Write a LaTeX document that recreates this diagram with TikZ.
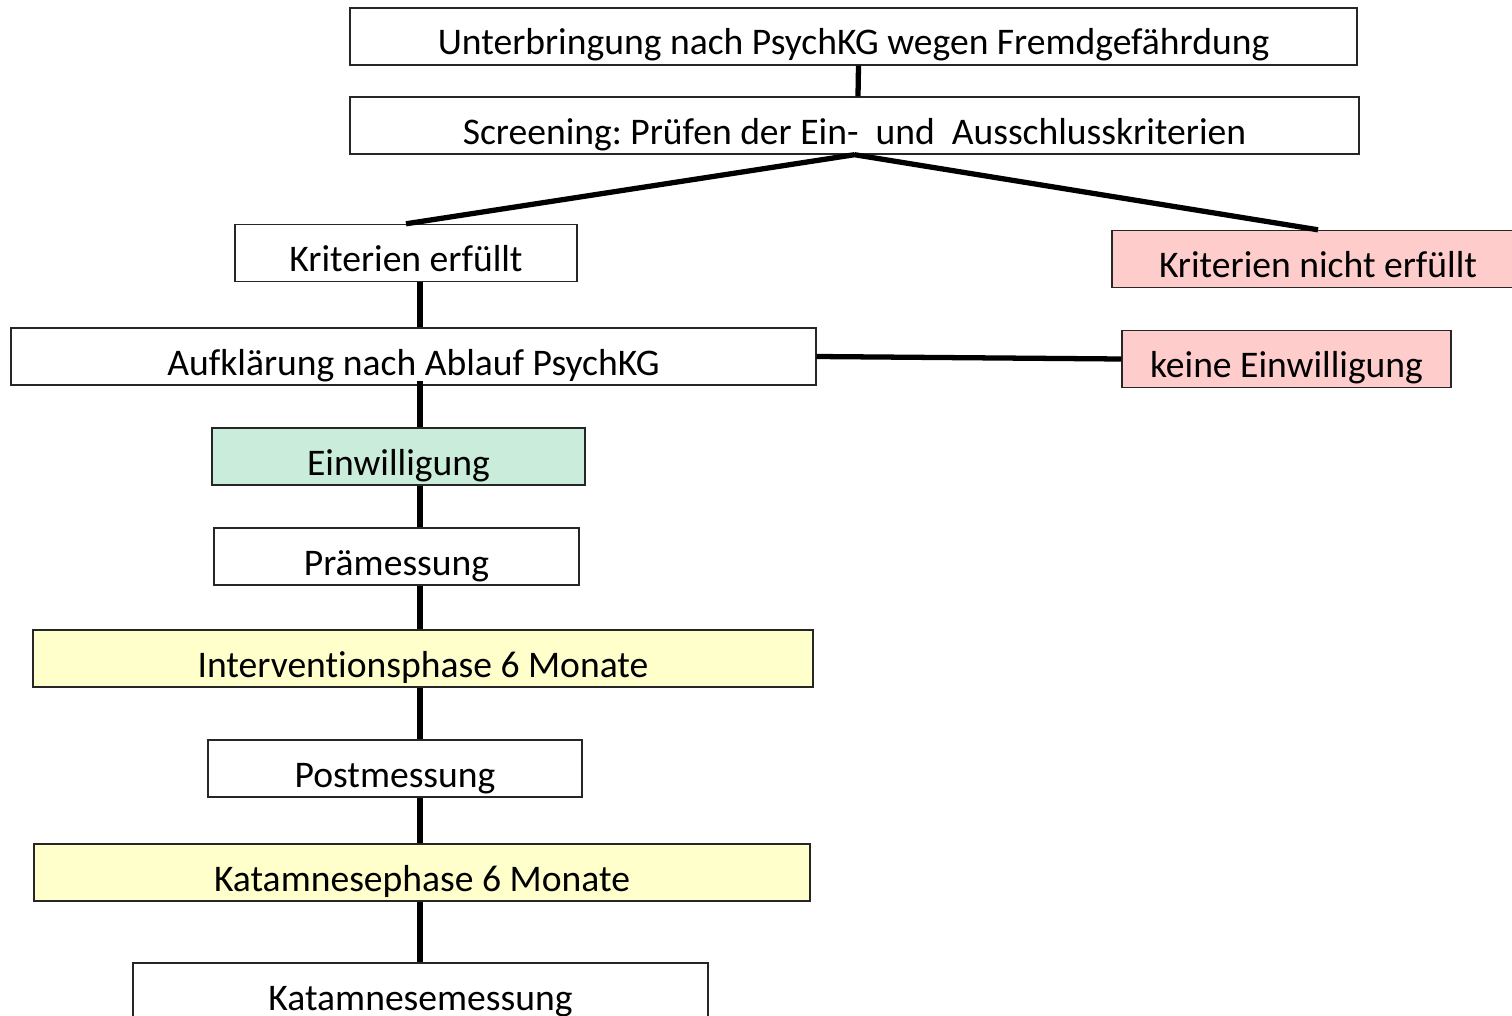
\documentclass[tikz,border=0pt]{standalone}
\usepackage{fontspec}
\setmainfont{Carlito}[Ligatures=NoCommon]
\usepackage{tikz}

\definecolor{nogo}{RGB}{255,204,204}
\definecolor{consent}{RGB}{201,236,219}
\definecolor{phase}{RGB}{255,255,204}

\begin{document}
\frenchspacing
\begin{tikzpicture}[
    stagebox/.style={draw=black!85,line width=0.8pt,minimum height=1.14cm,
      inner sep=0pt,align=center,text height=0.9cm,text depth=0.16cm,
      font=\fontsize{21.4}{25}\selectfont},
    link/.style={line width=3pt}]
    \useasboundingbox (0,0) rectangle (30.24,-20.32);
    \clip (0,0) rectangle (30.24,-20.32);
    \newcommand\stage[6]{
      \node[stagebox,fill=#5,minimum width=#3cm] at (#1,#2) (#4) {#6};
    }
    \stage{17.07}{-0.73}{20.14}{unterbr}{white}{Unterbringung nach PsychKG wegen Fremdgefährdung};
    \stage{17.09}{-2.51}{20.18}{screen}{white}{Screening: Prüfen der Ein-\ \ und\ \ Ausschlusskriterien};
    \stage{8.12}{-5.06}{6.84}{erfuellt}{white}{Kriterien erfüllt};
    \stage{26.36}{-5.18}{8.24}{nicht}{nogo}{Kriterien nicht erfüllt};
    \stage{8.27}{-7.13}{16.10}{aufkl}{white}{Aufklärung nach Ablauf PsychKG};
    \stage{25.73}{-7.18}{6.58}{keine}{nogo}{keine Einwilligung};
    \stage{7.97}{-9.13}{7.46}{einw}{consent}{Einwilligung};
    \stage{7.93}{-11.13}{7.30}{prae}{white}{Prämessung};
    \stage{8.46}{-13.17}{15.60}{interv}{phase}{Interventionsphase 6 Monate};
    \stage{7.90}{-15.37}{7.48}{post}{white}{Postmessung};
    \stage{8.44}{-17.45}{15.52}{katph}{phase}{Katamnesephase 6 Monate};
    \stage{8.41}{-19.83}{11.50}{katmess}{white}{Katamnesemessung};
    \coordinate (spine) at (8.40,0);
    \draw[link] ([xshift=0.1cm]unterbr.south) -- ([xshift=0.07cm]screen.north);
    \draw[link] (screen.south) -- (erfuellt.north)
      (screen.south) -- (nicht.north)
      (aufkl.east) -- (keine.west);
    \draw[link] (erfuellt.south -| spine) -- (aufkl.north -| spine)
      ([yshift=0.1cm]aufkl.south -| spine) -- (einw.north -| spine)
      (einw.south -| spine) -- (prae.north -| spine)
      (prae.south -| spine) -- (interv.north -| spine)
      (interv.south -| spine) -- (post.north -| spine)
      (post.south -| spine) -- (katph.north -| spine)
      (katph.south -| spine) -- (katmess.north -| spine);
  \end{tikzpicture}
\end{document}
